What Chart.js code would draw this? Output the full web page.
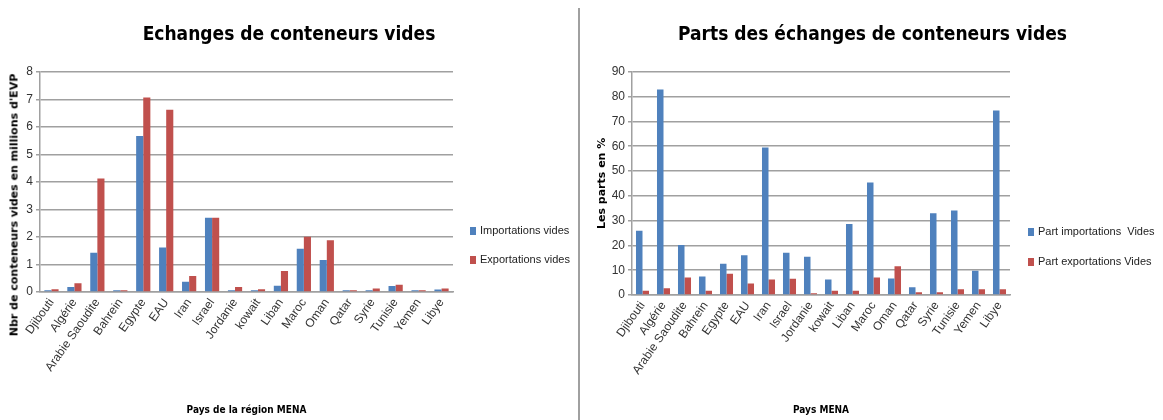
<!DOCTYPE html>
<html><head><meta charset="utf-8">
<script src="https://cdn.jsdelivr.net/npm/chart.js@4.4.0/dist/chart.umd.min.js"></script>
<style>
html,body{margin:0;padding:0;background:#fff;width:1163px;height:420px;overflow:hidden;}
#c1wrap{position:absolute;left:0;top:0;width:578px;height:420px;}
#c2wrap{position:absolute;left:582px;top:0;width:581px;height:420px;}
#divider{position:absolute;left:578px;top:8px;width:2px;height:412px;background:#a0a0a0;}
.leg{position:absolute;font-family:"Liberation Sans",Arial,sans-serif;font-size:11px;color:#222;white-space:nowrap;}
.leg span.box{display:inline-block;width:6px;height:8px;margin-right:4px;vertical-align:-1px;}
#ytitle1{position:absolute;left:14px;top:205px;transform:translate(-50%,-50%) rotate(-90deg);font-family:"DejaVu Sans",sans-serif;font-weight:bold;font-size:11px;color:#000;white-space:nowrap;}
</style></head>
<body>
<div id="c1wrap"><canvas id="c1"></canvas></div>
<div id="divider"></div>
<div id="c2wrap"><canvas id="c2"></canvas></div>
<div id="ytitle1">Nbr de conteneurs vides en millions d'EVP</div>
<div class="leg" style="left:470px;top:224px"><span class="box" style="background:#4F81BD"></span>Importations vides</div>
<div class="leg" style="left:470px;top:253px"><span class="box" style="background:#C0504D"></span>Exportations vides</div>
<div class="leg" style="left:1028px;top:225px"><span class="box" style="background:#4F81BD"></span>Part importations &nbsp;Vides</div>
<div class="leg" style="left:1028px;top:255px"><span class="box" style="background:#C0504D"></span>Part exportations Vides</div>
<script>
const countries = ["Djibouti","Algérie","Arabie Saoudite","Bahrein","Egypte","EAU","Iran","Israel","Jordanie","kowait","Liban","Maroc","Oman","Qatar","Syrie","Tunisie","Yemen","Libye"];
const importationsVides = [0.06,0.18,1.43,0.06,5.67,1.62,0.37,2.70,0.06,0.06,0.23,1.57,1.16,0.06,0.06,0.22,0.06,0.09];
const exportationsVides = [0.10,0.32,4.12,0.06,7.07,6.62,0.58,2.70,0.18,0.10,0.76,2.01,1.88,0.06,0.13,0.26,0.06,0.13];
const partImportations = [25.9,82.9,20.2,7.5,12.6,16.0,59.5,17.0,15.4,6.2,28.6,45.4,6.7,3.1,33.0,34.1,9.8,74.4];
const partExportations = [1.7,2.7,7.1,1.7,8.6,4.6,6.2,6.6,0.7,1.7,1.7,7.1,11.6,1.1,1.1,2.3,2.3,2.3];
const leftTicks = {min:0,max:8,step:1};
const rightTicks = {min:0,max:90,step:10};

const NARROW = '"DejaVu Sans Condensed","Liberation Sans",sans-serif';
const SANS = '"Liberation Sans",Arial,sans-serif';
const BLUE = '#4F81BD', RED = '#C0504D', GRID = '#a0a0a0';

function makeChart(id, title, s1, s2, n1, n2, yt, ytitle, xtitle, yWidth, xHeight, padLeft, rightSpace) {
  new Chart(document.getElementById(id), {
    type: 'bar',
    data: {
      labels: countries,
      datasets: [
        {label:n1, data:s1, backgroundColor:BLUE, categoryPercentage:0.62, barPercentage:1.0},
        {label:n2, data:s2, backgroundColor:RED, categoryPercentage:0.62, barPercentage:1.0}
      ]
    },
    options: {
      responsive:true, maintainAspectRatio:false, animation:false,
      layout:{padding:{left:0,right:0,top:0,bottom:0}},
      plugins:{
        legend:{display:false},
        tooltip:{enabled:false},
        title:{display:true, text:title, color:'#000',
          font:{family:NARROW, size:19, weight:'bold'}, padding:{top:24,bottom:25}}
      },
      scales:{
        x:{
          grid:{display:false, drawTicks:false},
          border:{display:true, color:GRID, width:1.5},
          ticks:{color:'#333', font:{family:SANS,size:12}, minRotation:55, maxRotation:55, autoSkip:false, padding:4},
          title:{display:true, text:xtitle, color:'#000', font:{family:NARROW,size:10,weight:'bold'}, padding:{top:0,bottom:4}},
          afterFit(s){ s.height = xHeight; }
        },
        y:{
          min:yt.min, max:yt.max,
          grid:{color:GRID, lineWidth:1.5, drawTicks:true, tickLength:4, tickColor:GRID},
          border:{display:true, color:GRID, width:1.5},
          ticks:{stepSize:yt.step, color:'#333', font:{family:SANS,size:12}, padding:3},
          title:{display:!!ytitle, text:ytitle, color:'#000', font:{family:'"DejaVu Sans",sans-serif',size:11,weight:'bold'}, padding:{top:0,bottom:2}},
          afterFit(s){ s.width = yWidth; }
        },
        padL:{
          type:'linear', position:'left', display:true,
          grid:{display:false, drawTicks:false}, border:{display:false},
          ticks:{display:false},
          afterFit(s){ s.width = padLeft; }
        },
        padR:{
          type:'linear', position:'right', display:true,
          grid:{display:false, drawTicks:false}, border:{display:false},
          ticks:{display:false},
          afterFit(s){ s.width = rightSpace; }
        }
      }
    }
  });
}
makeChart('c1','Echanges de conteneurs vides', importationsVides, exportationsVides,
  'Importations vides','Exportations vides', leftTicks, '', 'Pays de la région MENA', 40, 128, 0, 125);
makeChart('c2','Parts des échanges de conteneurs vides', partImportations, partExportations,
  'Part importations  Vides','Part exportations Vides', rightTicks, 'Les parts en %', 'Pays MENA', 36, 125, 14, 153);
</script>
</body></html>
